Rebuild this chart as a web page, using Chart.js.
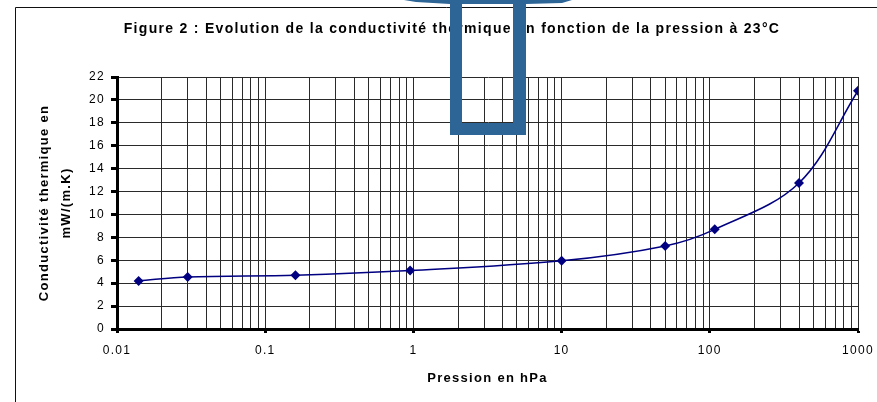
<!DOCTYPE html>
<html>
<head>
<meta charset="utf-8">
<script src="https://cdn.jsdelivr.net/npm/chart.js@4/dist/chart.umd.min.js"></script>
<style>
  html, body { margin: 0; padding: 0; background: #fff; }
  #graph { display: block; }
</style>
</head>
<body>
<canvas id="graph" width="877" height="402"></canvas>
<script>
// pression (hPa) et conductivité thermique mesurée (mW/(m.K))
const pressions = [0.014, 0.03, 0.16, 0.95, 10, 50, 108, 400, 1000];
const conductivite = [4.2, 4.55, 4.7, 5.1, 5.95, 7.25, 8.7, 12.75, 20.8];

// décades de l'axe des pressions (étiquettes) et graduations verticales
const decades = [0.01, 0.1, 1, 10, 100, 1000];
const yTicks = [0, 2, 4, 6, 8, 10, 12, 14, 16, 18, 20, 22];

const titre = 'Figure 2 : Evolution de la conductivité thermique en fonction de la pression à 23°C';
const titreY = ['Conductivité thermique en', 'mW/(m.K)'];
const titreX = 'Pression en hPa';

const police = 'Liberation Sans, Arial, sans-serif';

function estDecade(v) {
  return decades.some(d => Math.abs(v - d) < d * 1e-6);
}

// cadre, titre et flèche bleue dessinés autour du graphique
const habillage = {
  id: 'habillage',
  beforeDraw(chart) {
    const c = chart.ctx;
    // texte un peu espacé, comme dans l'export du tableur
    c.letterSpacing = '1.3px';
    c.save();
    c.strokeStyle = '#111';
    c.lineWidth = 1;
    c.beginPath();
    c.moveTo(15.5, 402);
    c.lineTo(15.5, 7.5);
    c.lineTo(877, 7.5);
    c.stroke();
    c.fillStyle = '#000';
    c.font = 'bold 14px ' + police;
    c.textAlign = 'center';
    c.textBaseline = 'middle';
    c.fillText(titre, 452, 29);
    c.restore();
  },
  afterDraw(chart) {
    const c = chart.ctx;
    c.save();
    c.fillStyle = '#2D6596';
    c.fillRect(450, 0, 12, 135);
    c.fillRect(513, 0, 13, 135);
    c.fillRect(450, 123, 76, 12);
    c.beginPath();
    c.moveTo(404, 0);
    c.lineTo(572, 0);
    c.lineTo(562, 3);
    c.lineTo(526, 4);
    c.lineTo(450, 4);
    c.lineTo(416, 2);
    c.closePath();
    c.fill();
    c.restore();
  }
};

const ctx = document.getElementById('graph').getContext('2d');

new Chart(ctx, {
  type: 'line',
  data: {
    datasets: [{
      label: 'Conductivité',
      data: pressions.map((p, i) => ({ x: p, y: conductivite[i] })),
      borderColor: '#000080',
      backgroundColor: '#000080',
      borderWidth: 1.5,
      tension: 0.35,
      pointStyle: 'rectRot',
      pointRadius: 5,
      pointBorderWidth: 0,
      pointBackgroundColor: '#000080',
      fill: false
    }]
  },
  options: {
    responsive: false,
    animation: false,
    devicePixelRatio: 1,
    layout: { padding: { top: 77, right: 19, bottom: 0, left: 0 } },
    plugins: {
      legend: { display: false },
      tooltip: { enabled: false }
    },
    scales: {
      x: {
        type: 'logarithmic',
        min: 0.01,
        max: 1000,
        afterFit(s) {
          s.height = 73;
          s.paddingLeft = 0;
          s.paddingRight = 0;
        },
        afterBuildTicks(s) {
          const t = [];
          decades.forEach(d => {
            for (let k = 1; k <= 9; k++) {
              const v = +(d * k).toPrecision(6);
              if (v <= 1000) t.push({ value: v });
            }
          });
          s.ticks = t;
        },
        ticks: {
          autoSkip: false,
          maxRotation: 0,
          padding: 10,
          color: '#000',
          font: { family: police, size: 12 },
          callback: v => estDecade(v) ? String(v) : ''
        },
        grid: {
          color: '#2a2a2a',
          lineWidth: 1,
          tickLength: 4,
          tickWidth: 3,
          tickColor: c => (c.tick && estDecade(c.tick.value)) ? '#000' : 'rgba(0,0,0,0)'
        },
        border: { display: true, color: '#000', width: 3 },
        title: {
          display: true,
          text: titreX,
          color: '#000',
          font: { family: police, size: 13, weight: 'bold' },
          padding: { top: 0, bottom: 16 }
        }
      },
      y: {
        min: 0,
        max: 22,
        afterFit(s) {
          s.width = 117;
          s.paddingTop = 0;
          s.paddingBottom = 0;
        },
        afterBuildTicks(s) { s.ticks = yTicks.map(v => ({ value: v })); },
        ticks: {
          padding: 6,
          color: '#000',
          font: { family: police, size: 12 }
        },
        grid: {
          color: '#2a2a2a',
          lineWidth: 1,
          tickLength: 6,
          tickWidth: 3,
          tickColor: '#000'
        },
        border: { display: true, color: '#000', width: 3 },
        title: {
          display: true,
          text: titreY,
          color: '#000',
          font: { family: police, size: 13, weight: 'bold', lineHeight: 1.7 },
          padding: { top: 33, bottom: 0 }
        }
      }
    }
  },
  plugins: [habillage]
});
</script>
</body>
</html>
